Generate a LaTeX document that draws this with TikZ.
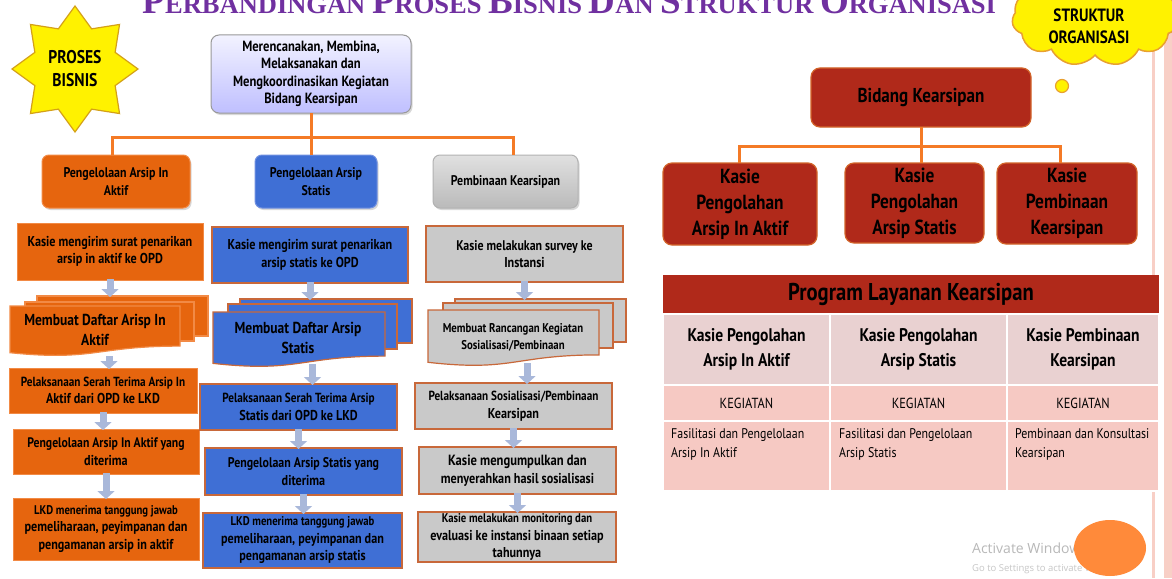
\documentclass[tikz,border=0pt]{standalone}
\usepackage{fontspec}
\setmainfont{PT Sans}[FakeStretch=0.85]
\newfontfamily\titlefont{Liberation Serif}
\newfontfamily\winfont{Open Sans}
\usetikzlibrary{shapes.geometric,shapes.symbols,shadows,arrows.meta}
\definecolor{orgfill}{HTML}{E6650E}
\definecolor{orgline}{HTML}{F28A45}
\definecolor{bluefill}{HTML}{3F6FD5}
\definecolor{blueline}{HTML}{7090E0}
\definecolor{brownline}{HTML}{C8683A}
\definecolor{grayfill}{HTML}{C9C9C9}
\definecolor{redfill}{HTML}{B0291A}
\definecolor{redline}{HTML}{D2642A}
\definecolor{connc}{HTML}{F47A26}
\definecolor{arrowc}{HTML}{A9B8DA}
\definecolor{titlec}{HTML}{7030A0}
\definecolor{rowa}{HTML}{E9D1D1}
\definecolor{rowb}{HTML}{F6C9C3}
\definecolor{pinkline}{HTML}{F8CFC6}
\definecolor{winorange}{HTML}{FF8A3A}
\definecolor{starline}{HTML}{D4A017}
\definecolor{cloudline}{HTML}{E8A030}
\newcommand\fs[2]{\fontsize{#1}{#2}\selectfont}
\newcommand\bx[7]{\node[#2,minimum width={#5-#3},minimum height={#6-#4}] (#1) at ({(#3+#5)/2},{(#4+#6)/2}) {#7};}
\newcommand\docshape[6]{\filldraw[fill=#1,draw=#2,line width=1.2pt] (#3,#4) -- (#5,#4) -- (#5,{#4+0.802*(#6-#4)}) .. controls ({(#3+#5)/2},{#4+0.802*(#6-#4)}) and ({(#3+#5)/2},{#4+1.107*(#6-#4)}) .. (#3,{#4+0.934*(#6-#4)}) -- cycle;}
\newcommand\sheet[6]{\filldraw[fill=#1,draw=#2,line width=1.2pt] (#3,#4) rectangle (#5,#6);}
\newcommand\tsc[2]{{\fs{37}{37}#1}{\fs{26.5}{26.5}#2}}
\tikzset{
  base/.style={inner sep=1pt,outer sep=0pt,align=center,text=black,font=\bfseries\fs{14.3}{17.5}},
  shad/.style={drop shadow={opacity=0.3,shadow xshift=1.5pt,shadow yshift=-2pt}},
  topbox/.style={base,rounded corners=8pt,draw=black!40,line width=1pt,top color=blue!5!white,bottom color=blue!25!white,shad,font=\bfseries\fs{14.8}{17.5}},
  l1o/.style={base,rounded corners=7pt,fill=orgfill,draw=orgline,line width=1pt,shad,font=\bfseries\fs{14}{18}},
  l1b/.style={base,rounded corners=7pt,fill=bluefill,draw=blueline,line width=1pt,shad,font=\bfseries\fs{14}{18}},
  l1g/.style={base,rounded corners=7pt,top color=black!12,bottom color=black!27,draw=black!30,line width=1pt,shad,font=\bfseries\fs{14}{18}},
  bo/.style={base,fill=orgfill,draw=orgline,line width=1pt},
  bb/.style={base,fill=bluefill,draw=brownline,line width=1.4pt},
  bg/.style={base,fill=grayfill,draw=brownline,line width=2pt},
  ghost/.style={inner sep=0pt,outer sep=0pt},
  doctext/.style={inner sep=0pt,align=center,font=\bfseries\fs{15.9}{20}},
  redbox/.style={base,rounded corners=9pt,fill=redfill,draw=redline,line width=1.2pt,font=\bfseries\fs{20.4}{26}},
  connl/.style={draw=connc,line width=3pt},
  arr/.style={draw=arrowc,line width=7pt,-{Triangle[length=8pt,width=17pt]}},
  cella/.style={inner sep=0pt,outer sep=0pt,fill=rowa,draw=white,line width=2pt,align=center,font=\bfseries\fs{18.3}{25}},
  cellb/.style={inner sep=0pt,outer sep=0pt,fill=rowb,draw=white,line width=2pt,align=center,font=\fs{14.6}{18}},
  cellt/.style={inner sep=0pt,anchor=north west,align=left,font=\fs{14}{19}},
}
\begin{document}
\begin{tikzpicture}[x=1pt,y=-1pt]
\useasboundingbox (0,0) rectangle (1172,578);
\fill[white] (0,0) rectangle (1172,578);
% right pink edges
\fill[pinkline] (1152,0) rectangle (1155,578);
\fill[pinkline] (1164,0) rectangle (1172,578);
% title
\node[anchor=base,text=titlec,inner sep=0pt] (title) at (566,14) {\titlefont\bfseries\fs{26.5}{26.5} \tsc{P}{ERBANDINGAN} \tsc{P}{ROSES} \tsc{B}{ISNIS} \tsc{D}{AN} \tsc{S}{TRUKTUR} \tsc{O}{RGANISASI}};
% star
\node[star,star points=8,star point ratio=1.45,minimum size=126pt,inner sep=0pt,fill=yellow,draw=starline,line width=1.2pt] (star) at (75,69) {};
\node[align=center,font=\bfseries\fs{18.4}{23}] (startext) at (75,69) {PROSES\\BISNIS};
% cloud
\node[cloud,cloud puffs=11,cloud puff arc=115,aspect=1.7,minimum width=166pt,minimum height=96pt,inner sep=0pt,fill=yellow,draw=cloudline,line width=1.5pt] (cloud) at (1095,18) {};
\draw[fill=yellow,draw=cloudline,line width=1.2pt] (1062,86) circle (6.5pt);
\node[align=center,font=\bfseries\fs{17.8}{22}] (cloudtext) at (1089,26) {STRUKTUR\\ORGANISASI};
% top box
\bx{t}{topbox}{211}{35}{411}{113}{Merencanakan, Membina,\\Melaksanakan dan\\Mengkoordinasikan Kegiatan\\Bidang Kearsipan}
\bx{a1}{l1o}{42}{155}{190}{208}{Pengelolaan Arsip In\\Aktif}
\bx{b1}{l1b}{255}{155}{377}{208}{Pengelolaan Arsip\\Statis}
\bx{c1}{l1g}{433}{155}{578}{208}{Pembinaan Kearsipan}
\coordinate (hj) at (312,137);
\draw[connl] (t.south) -- (t.south |- b1.north);
\draw[connl] ([xshift=-4pt]a1.north) -- ([xshift=-4pt]a1.north |- hj) -- ([xshift=7.5pt]c1.north |- hj) -- ([xshift=7.5pt]c1.north);
% column 1
\bx{a2}{bo}{17}{223}{203}{280}{Kasie mengirim surat penarikan\\arsip in aktif ke OPD}
\sheet{orgfill}{orgline}{37}{296}{208}{336}
\sheet{orgfill}{orgline}{25}{302}{194}{341}
\docshape{orgfill}{orgline}{10}{306}{180}{356}
\bx{a3}{ghost}{10}{296}{208}{357}{}
\node[doctext] (a3t) at (95,330) {Membuat Daftar Arisp In\\Aktif};
\bx{a4}{bo}{9}{368}{197}{413}{\fs{13.2}{17}Pelaksanaan Serah Terima Arsip In\\Aktif dari OPD ke LKD}
\bx{a5}{bo}{13}{429}{199}{474}{\fs{13.8}{17.5}Pengelolaan Arsip In Aktif yang\\diterima}
\bx{a6}{bo}{13}{498}{199}{560}{\fs{12.6}{17.5}LKD menerima tanggung jawab\\pemeliharaan, peyimpanan dan\\pengamanan arsip in aktif}
% column 2
\bx{b2}{bb}{212}{227}{408}{283}{Kasie mengirim surat penarikan\\arsip statis ke OPD}
\sheet{bluefill}{brownline}{240}{299}{412}{343}
\sheet{bluefill}{brownline}{228}{304}{397}{349}
\docshape{bluefill}{brownline}{213}{312}{385}{367}
\bx{b3}{ghost}{213}{299}{412}{365}{}
\node[doctext] (b3t) at (298,338) {Membuat Daftar Arsip\\Statis};
\bx{b4}{bb}{200}{384}{397}{430}{\fs{13.2}{17}Pelaksanaan Serah Terima Arsip\\Statis dari OPD ke LKD}
\bx{b5}{bb}{205}{448}{402}{495}{\fs{14}{18}Pengelolaan Arsip Statis yang\\diterima}
\bx{b6}{bb}{203}{513}{402}{568}{\fs{12.6}{17.5}LKD menerima tanggung jawab\\pemeliharaan, peyimpanan dan\\pengamanan arsip statis}
% column 3
\bx{c2}{bg}{426}{226}{623}{282}{\fs{14}{18}Kasie melakukan survey ke\\Instansi}
\sheet{grayfill}{brownline}{455}{299}{626}{342}
\sheet{grayfill}{brownline}{443}{303}{613}{348}
\docshape{grayfill}{brownline}{428}{310}{599}{366}
\bx{c3}{ghost}{428}{299}{626}{364}{}
\node[doctext,font=\bfseries\fs{12.7}{17}] (c3t) at (513,337) {Membuat Rancangan Kegiatan\\Sosialisasi/Pembinaan};
\bx{c4}{bg}{415}{383}{612}{429}{\fs{13.2}{17}Pelaksanaan Sosialisasi/Pembinaan\\Kearsipan}
\bx{c5}{bg}{419}{447}{616}{494}{\fs{14.8}{19}Kasie mengumpulkan dan\\menyerahkan hasil sosialisasi}
\bx{c6}{bg}{418}{512}{616}{562}{\fs{12.6}{15.5}Kasie melakukan monitoring dan\\evaluasi ke instansi binaan setiap\\tahunnya}
% arrows
\foreach \u/\v in {a2/a3,a3/a4,a4/a5,a5/a6,b2/b3,b3/b4,b4/b5,b5/b6,c2/c3,c3/c4,c4/c5,c5/c6}{
  \draw[arr] ([yshift=1pt]\u.south) -- ([yshift=-1pt]\u.south |- \v.north);
}
% right side hierarchy
\bx{r0}{redbox}{811}{68}{1031}{127}{\fs{20.1}{24}Bidang Kearsipan}
\bx{r1}{redbox}{663}{163}{817}{245}{Kasie\\Pengolahan\\Arsip In Aktif}
\bx{r2}{redbox}{845}{163}{984}{243}{Kasie\\Pengolahan\\Arsip Statis}
\bx{r3}{redbox}{997}{163}{1137}{244}{Kasie\\Pembinaan\\Kearsipan}
\coordinate (rj) at (921,146);
\draw[connl] (r0.south) -- ([xshift=6.5pt]r2.north);
\draw[connl] ([xshift=-1pt]r1.north) -- ([xshift=-1pt]r1.north |- rj) -- ([xshift=-7pt]r3.north |- rj) -- ([xshift=-7pt]r3.north);
% table
\bx{th}{ghost}{663}{275}{1159}{314}{}
\fill[redfill] (th.north west) rectangle (th.south east);
\node[font=\bfseries\fs{24.3}{28}] (tht) at (th.center) {Program Layanan Kearsipan};
\bx{k1}{cella}{663}{314}{830}{385}{Kasie Pengolahan\\Arsip In Aktif}
\bx{k2}{cella}{830}{314}{1007}{385}{Kasie Pengolahan\\Arsip Statis}
\bx{k3}{cella}{1007}{314}{1159}{385}{Kasie Pembinaan\\Kearsipan}
\bx{g1}{cellb}{663}{385}{830}{421}{KEGIATAN}
\bx{g2}{cellb}{830}{385}{1007}{421}{KEGIATAN}
\bx{g3}{cellb}{1007}{385}{1159}{421}{KEGIATAN}
\bx{f1}{cellb}{663}{421}{830}{491}{}
\bx{f2}{cellb}{830}{421}{1007}{491}{}
\bx{f3}{cellb}{1007}{421}{1159}{491}{}
\node[cellt] (f1t) at (671,428) {Fasilitasi dan Pengelolaan\\Arsip In Aktif};
\node[cellt] (f2t) at (839,428) {Fasilitasi dan Pengelolaan\\Arsip Statis};
\node[cellt] (f3t) at (1015,428) {Pembinaan dan Konsultasi\\Kearsipan};
% watermark
\node[anchor=base west,inner sep=0pt,text=black!28,font=\winfont\fs{14}{16}] (wm1) at (972,553) {Activate Windows};
\node[anchor=base west,inner sep=0pt,text=black!22,font=\winfont\fs{9.5}{11}] (wm2) at (972,571) {Go to Settings to activate Windows.};
\fill[winorange] (1110,548) ellipse [x radius=36pt,y radius=28pt];
\end{tikzpicture}
\end{document}
